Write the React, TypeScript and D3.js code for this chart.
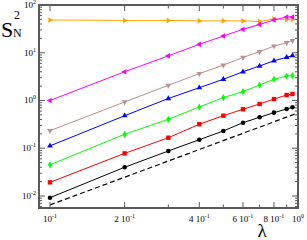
import React from 'react';
import * as d3 from 'd3';

const lambda = [0.1, 0.2, 0.3, 0.4, 0.5, 0.6, 0.7, 0.8, 0.9, 0.95];
const orange = [48.5, 47.5, 47.5, 46.5, 46.5, 46.5, 45, 51, 50, 50];
const magenta = [1.0, 4.0, 8.6, 15, 22.4, 31, 39, 48.6, 56, 56];
const brown = [0.233, 0.93, 2.08, 3.65, 5.5, 8.0, 10.5, 13.8, 16.2, 17.9];
const blue = [0.112, 0.48, 1.1, 1.85, 2.78, 4.0, 5.27, 6.8, 8.0, 8.7];
const green = [0.045, 0.196, 0.404, 0.73, 1.15, 1.53, 2.11, 2.78, 3.26, 3.31];
const red = [0.0193, 0.078, 0.166, 0.318, 0.48, 0.655, 0.845, 1.07, 1.3, 1.37];
const black = [0.0092, 0.04, 0.0875, 0.151, 0.23, 0.343, 0.445, 0.556, 0.664, 0.72];
// reference dashed line
const refX = [0.1, 1];
const refY = [0.0065, 0.55];

const xMajor = [0.1, 0.2, 0.4, 0.6, 0.8, 1];
const xMajorLabels = [['10', '-1'], ['2 10', '-1'], ['4 10', '-1'], ['6 10', '-1'], ['8 10', '-1'], ['10', '0']];
const xMinor = [0.3, 0.5, 0.7, 0.9];
const yMajor = [0.01, 0.1, 1, 10, 100];
const yMajorLabels = ['-2', '-1', '0', '1', '2'];

const series = [
  { name: 'orange', values: orange, color: '#ffa500', marker: 'right' },
  { name: 'magenta', values: magenta, color: '#ff00ff', marker: 'left' },
  { name: 'brown', values: brown, color: '#bc8f8f', marker: 'down' },
  { name: 'blue', values: blue, color: '#0000ff', marker: 'up' },
  { name: 'green', values: green, color: '#00ff00', marker: 'diamond' },
  { name: 'red', values: red, color: '#ff0000', marker: 'square' },
  { name: 'black', values: black, color: '#000000', marker: 'circle' },
];

const W = 307;
const H = 240;
const L = 39, R = 298, T = 5, B = 208;
const frame = '#5a5a5a';
const serif = '"Liberation Serif", "DejaVu Serif", serif';

function Marker({ x, y, kind, color }: { x: number; y: number; kind: string; color: string }) {
  if (kind === 'circle') return <circle cx={x} cy={y} r={2.3} fill={color} />;
  if (kind === 'square') return <rect x={x - 2.2} y={y - 2.2} width={4.4} height={4.4} fill={color} />;
  const sym = kind === 'diamond' ? d3.symbolDiamond : d3.symbolTriangle;
  const size = kind === 'diamond' ? 15 : 14;
  const rot = { up: 0, down: 180, left: -90, right: 90, diamond: 0 }[kind] || 0;
  return (
    <path
      d={d3.symbol().type(sym).size(size)() || ''}
      transform={`translate(${x},${y}) rotate(${rot})`}
      fill={color}
    />
  );
}

export default function App() {
  const x = d3.scaleLog().domain([0.0903, 1]).range([L, R]);
  const y = d3.scaleLog().domain([0.0056, 100]).range([B, T]);
  const line = d3
    .line<[number, number]>()
    .x((d) => x(d[0]))
    .y((d) => y(d[1]));

  const yMinor: number[] = [];
  for (let e = -3; e <= 1; e++) {
    for (let k = 2; k <= 9; k++) {
      const v = k * Math.pow(10, e);
      if (v >= 0.0056 && v <= 100) yMinor.push(v);
    }
  }

  return (
    <svg width={W} height={H} style={{ position: 'absolute', left: 0, top: 0 }} fontFamily={serif}>
      <rect width={W} height={H} fill="#fff" />
      {/* dashed reference */}
      <path
        d={line(refX.map((v, i) => [v, refY[i]]) as [number, number][]) || ''}
        fill="none"
        stroke="#000"
        strokeWidth={1.2}
        strokeDasharray="5,3"
      />
      {series.map((s) => (
        <g key={s.name}>
          <path
            d={line(lambda.map((v, i) => [v, s.values[i]]) as [number, number][]) || ''}
            fill="none"
            stroke={s.color}
            strokeWidth={1}
          />
          {lambda.map((v, i) => (
            <Marker key={i} x={x(v)} y={y(s.values[i])} kind={s.marker} color={s.color} />
          ))}
        </g>
      ))}

      {/* ticks */}
      <g stroke={frame} strokeWidth={1}>
        {xMajor.map((v) => (
          <g key={'xM' + v}>
            <line x1={x(v)} x2={x(v)} y1={B} y2={B - 6} />
            <line x1={x(v)} x2={x(v)} y1={T} y2={T + 6} />
          </g>
        ))}
        {xMinor.map((v) => (
          <g key={'xm' + v}>
            <line x1={x(v)} x2={x(v)} y1={B} y2={B - 3.5} />
            <line x1={x(v)} x2={x(v)} y1={T} y2={T + 3.5} />
          </g>
        ))}
        {yMajor.map((v) => (
          <g key={'yM' + v}>
            <line x1={L} x2={L + 6} y1={y(v)} y2={y(v)} />
            <line x1={R} x2={R - 6} y1={y(v)} y2={y(v)} />
          </g>
        ))}
        {yMinor.map((v) => (
          <g key={'ym' + v}>
            <line x1={L} x2={L + 3} y1={y(v)} y2={y(v)} />
            <line x1={R} x2={R - 3} y1={y(v)} y2={y(v)} />
          </g>
        ))}
      </g>
      <rect x={L} y={T} width={R - L} height={B - T} fill="none" stroke={frame} strokeWidth={2} />

      {/* tick labels */}
      {xMajor.map((v, i) => (
        <text key={'xl' + v} x={x(v)} y={222} fontSize={9} textAnchor="middle" fill="#000">
          {xMajorLabels[i][0]}
          <tspan fontSize={6} dy={-4}>{xMajorLabels[i][1]}</tspan>
        </text>
      ))}
      {yMajor.map((v, i) => (
        <text key={'yl' + v} x={36} y={y(v) + 3} fontSize={9} textAnchor="end" fill="#000">
          10
          <tspan fontSize={6} dy={-4}>{yMajorLabels[i]}</tspan>
        </text>
      ))}

      {/* axis titles */}
      <text x={262} y={237} fontSize={19} textAnchor="middle" fill="#000">λ</text>
      <text x={1} y={37} fontSize={22} fill="#000">S</text>
      <text x={13} y={37} fontSize={12} fill="#000">N</text>
      <text x={14} y={19} fontSize={12} fill="#000">2</text>
    </svg>
  );
}
